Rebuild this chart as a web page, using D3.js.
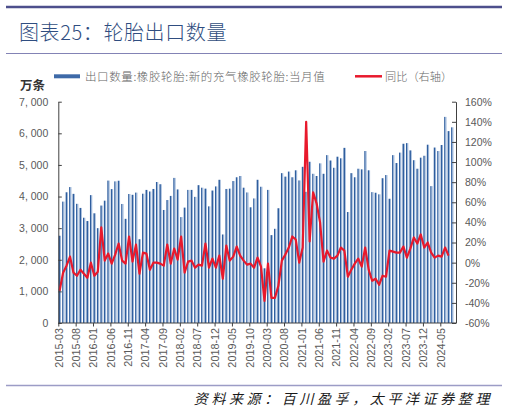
<!DOCTYPE html>
<html><head><meta charset="utf-8">
<script src="https://cdn.jsdelivr.net/npm/d3@7"></script>
<style>body{margin:0;background:#fff;} svg{display:block;}</style>
</head><body>
<svg id="c" width="507" height="413"></svg>
<script>
// ---- data (monthly, 2015-03 .. 2024-08) ----
const startYear = 2015, startMonth = 3;
const exportVolume = [
 2760,3840,4135,4300,4085,3770,3640,3330,3225,4045,
 3470,3000,3715,3870,4505,4235,4480,4500,3765,3295,
 4080,4055,4125,2650,4090,4210,4160,4240,4460,4390,
 3575,3890,4020,4590,4225,3350,3650,4210,4210,3990,
 4360,4280,4250,3690,4190,4320,4530,2800,4240,4250,
 4490,4610,4650,4280,4130,3660,3940,4530,4310,1730,
 4210,2780,2980,3630,4740,4630,4790,4610,4830,4510,
 4940,4150,5100,4720,4650,5050,4720,5310,5140,4910,
 5260,5210,5540,3510,4740,4610,4880,4860,5440,4830,
 4140,4120,4070,4580,4680,3930,5310,5060,5390,5670,
 5690,5460,5150,4880,5230,5290,5640,4330,5550,5440,
 5630,6520,6070,6190
];
const yoyPct = [
 -28,-10,-3,6,-10,-13,-7,-11,-15,0,
 -13,-9,35,2,9,-1,8,19,2,-1,
 26,1,18,-11,10,9,-7,0,0,-1,
 -3,18,-1,14,3,26,-10,1,2,-5,
 -2,-3,19,-5,4,-5,7,-16,17,2,
 6,16,7,2,-2,-1,-5,5,-4,-38,
 -1,-35,-35,-23,2,8,15,26,23,0,
 15,140,21,70,59,40,1,12,5,4,
 7,15,12,-14,-7,-1,4,-4,15,-7,
 -18,-16,-22,-13,-14,12,11,10,10,16,
 5,14,25,19,28,15,20,10,5,7,
 6,15,7
];
const leftTicks = [0,1000,2000,3000,4000,5000,6000,7000];
const rightTicks = [-60,-40,-20,0,20,40,60,80,100,120,140,160];
const xTickLabels = ["2015-03","2015-08","2016-01","2016-06","2016-11","2017-04","2017-09","2018-02","2018-07","2018-12","2019-05","2019-10","2020-03","2020-08","2021-01","2021-06","2021-11","2022-04","2022-09","2023-02","2023-07","2023-12","2024-05"];
const titleText = "图表25：轮胎出口数量";
const seriesNames = ["出口数量:橡胶轮胎:新的充气橡胶轮胎:当月值","同比（右轴）"];
const unitText = "万条";
const sourceText = "资料来源：百川盈孚，太平洋证券整理";

const months = exportVolume.map((d,i)=>{const m=startMonth-1+i;return `${startYear+Math.floor(m/12)}-${String(m%12+1).padStart(2,'0')}`;});

// ---- drawing ----
const svg = d3.select("#c");
const FONT = "'Liberation Sans', Arial, sans-serif";
const CJK = "'Noto Sans CJK SC', sans-serif";
const X0 = 58.3, XR = 456, YB = 323, YT = 101.7;

const x = d3.scaleLinear().domain([0,110]).range([X0,440.3]);
const yL = d3.scaleLinear().domain([0,7000]).range([YB,YT]);
const yR = d3.scaleLinear().domain([-60,160]).range([YB,YT]);

// header rules & title
svg.append("line").attr("x1",6).attr("x2",502).attr("y1",7).attr("y2",7).attr("stroke","#4d4f8c").attr("stroke-width",2.5);
svg.append("text").attr("x",19).attr("y",40).text(titleText)
  .attr("font-family",CJK).attr("font-size",20).attr("font-weight",300).attr("fill","#2f4d80").attr("letter-spacing",0.6);
svg.append("line").attr("x1",6).attr("x2",502).attr("y1",53.5).attr("y2",53.5).attr("stroke","#8383b5").attr("stroke-width",1);

// legend
svg.append("rect").attr("x",54).attr("y",74.3).attr("width",26).attr("height",4).attr("fill","#3e6aa8");
svg.append("text").attr("x",85).attr("y",80.5).text(seriesNames[0])
  .attr("font-family",CJK).attr("font-size",11.5).attr("font-weight",300).attr("fill","#666").attr("letter-spacing",0.6);
svg.append("line").attr("x1",355).attr("x2",382).attr("y1",76.3).attr("y2",76.3).attr("stroke","#e8192c").attr("stroke-width",2.5);
svg.append("text").attr("x",385).attr("y",80.5).text(seriesNames[1])
  .attr("font-family",CJK).attr("font-size",11.2).attr("font-weight",300).attr("fill","#666");

svg.append("text").attr("x",20).attr("y",90).text(unitText)
  .attr("font-family",CJK).attr("font-size",12.5).attr("font-weight","bold").attr("fill","#333");

// gradient for bars
const defs = svg.append("defs");
const g = defs.append("linearGradient").attr("id","bg").attr("x1",0).attr("x2",1).attr("y1",0).attr("y2",0);
g.append("stop").attr("offset","0").attr("stop-color","#2f5e9e");
g.append("stop").attr("offset","0.45").attr("stop-color","#2f5e9e");
g.append("stop").attr("offset","0.55").attr("stop-color","#9ab4d7");
g.append("stop").attr("offset","1").attr("stop-color","#9ab4d7");

// bars
svg.append("g").selectAll("rect").data(exportVolume).join("rect")
  .attr("x",(d,i)=>x(i)+0.4).attr("width",2.3)
  .attr("y",d=>yL(d)).attr("height",d=>YB-yL(d))
  .attr("fill","url(#bg)");

// line
const line = d3.line().x((d,i)=>x(i)+1.3).y(d=>yR(d));
svg.append("path").datum(yoyPct).attr("d",line)
  .attr("fill","none").attr("stroke","#e8192c").attr("stroke-width",2.2).attr("stroke-linejoin","round");

// axes
function styleAxis(sel){
  sel.selectAll("path,line").attr("stroke","#404040");
  sel.selectAll("text").attr("fill","#595959").attr("font-family",FONT);
}
const fmtL = v => d3.format(",")(v).replace(",", ", ");
const axL = svg.append("g").attr("transform",`translate(${X0},0)`)
  .call(d3.axisLeft(yL).tickValues(leftTicks).tickSize(-3.5).tickSizeOuter(0).tickPadding(10).tickFormat(fmtL));
styleAxis(axL); axL.selectAll("text").attr("font-size",10.5);

const axR = svg.append("g").attr("transform",`translate(${XR},0)`)
  .call(d3.axisRight(yR).tickValues(rightTicks).tickSize(-4).tickSizeOuter(0).tickPadding(9).tickFormat(d=>d+"%"));
styleAxis(axR); axR.selectAll("text").attr("font-size",10.5);

const tickIdx = xTickLabels.map(l=>months.indexOf(l));
const axB = svg.append("g").attr("transform",`translate(0,${YB})`)
  .call(d3.axisBottom(x).tickValues(tickIdx).tickSize(3.5).tickSizeOuter(0).tickFormat((d,i)=>xTickLabels[i]));
axB.select(".domain").remove();
styleAxis(axB);
axB.selectAll("text").attr("font-size",10.8).attr("transform","rotate(-90)")
  .attr("x",-5).attr("y",0).attr("dy","0.35em").style("text-anchor","end");
svg.append("line").attr("x1",X0).attr("x2",XR).attr("y1",YB).attr("y2",YB).attr("stroke","#404040");

// footer
svg.append("line").attr("x1",6).attr("x2",502).attr("y1",385.5).attr("y2",385.5).attr("stroke","#9c9cc6").attr("stroke-width",1.5);
svg.append("text").attr("x",493).attr("y",404).attr("text-anchor","end").text(sourceText)
  .attr("font-family",CJK).attr("font-size",14).attr("font-style","italic").attr("letter-spacing",3.6).attr("fill","#1a1a1a");
</script>
</body></html>
